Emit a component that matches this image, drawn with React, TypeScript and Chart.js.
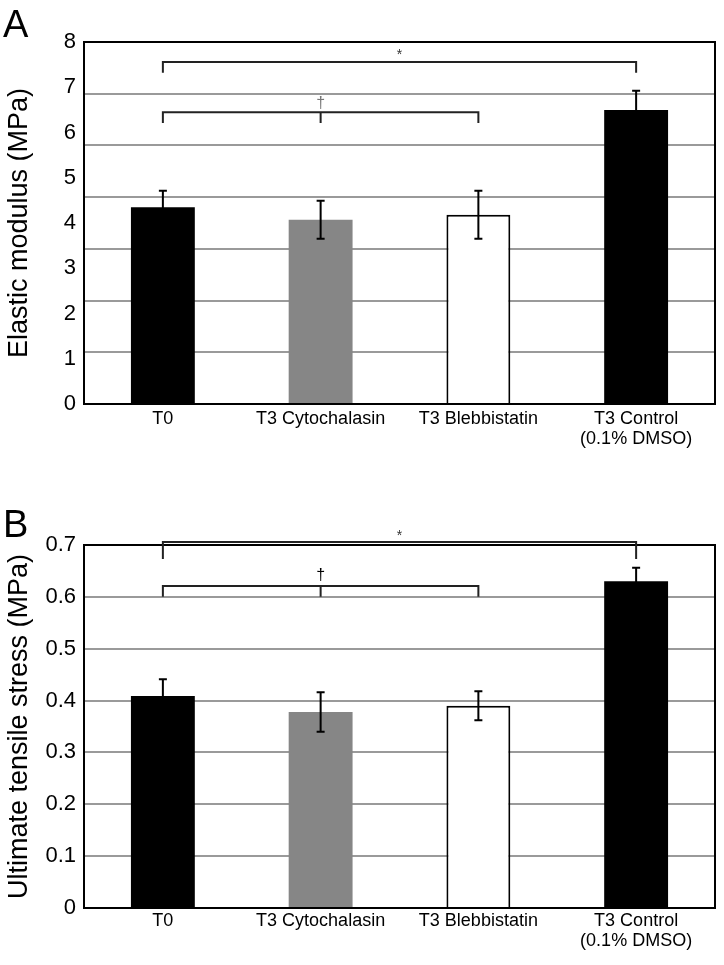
import React, { useEffect, useRef } from "react";
import { Chart, registerables } from "chart.js";

Chart.register(...registerables);

const categories: (string | string[])[] = ["T0", "T3 Cytochalasin", "T3 Blebbistatin", ["T3 Control", "(0.1% DMSO)"]];
const barColors = ["#000000", "#868686", "#ffffff", "#000000"];
const barBorderWidths = [0, 0, 2, 0];

// Panel A: elastic modulus (MPa)
const modulusMeans = [4.35, 4.07, 4.18, 6.5];
const modulusErrors = [0.36, 0.42, 0.53, 0.42];
const modulusTickMax = 8;
const modulusGridSteps = 7;
const modulusBrackets = [
  { from: 0, to: 3, mid: null as number | null, y: 7.56, drop: 0.24, label: "*", labelY: 7.62, labelColor: "#333" },
  { from: 0, to: 2, mid: 1 as number | null, y: 6.45, drop: 0.24, label: "†", labelY: 6.55, labelColor: "#777" },
];

// Panel B: ultimate tensile stress (MPa)
const utsMeans = [0.409, 0.378, 0.39, 0.63];
const utsErrors = [0.032, 0.038, 0.028, 0.026];
const utsTickMax = 0.7;
const utsGridSteps = 7;
const utsBrackets = [
  { from: 0, to: 3, mid: null as number | null, y: 0.706, drop: 0.033, label: "*", labelY: 0.71, labelColor: "#333" },
  { from: 0, to: 2, mid: 1 as number | null, y: 0.621, drop: 0.021, label: "†", labelY: 0.632, labelColor: "#000" },
];

const FONT = "'Liberation Sans', Arial, Helvetica, sans-serif";

type PanelProps = {
  top: number;
  height: number;
  plotTop: number;
  plotBottom: number;
  means: number[];
  errors: number[];
  tickMax: number;
  tickStep: number;
  gridSteps: number;
  brackets: typeof modulusBrackets;
  title: string;
  xPad: number;
};

function Panel(p: PanelProps) {
  const ref = useRef<HTMLCanvasElement | null>(null);
  useEffect(() => {
    if (!ref.current) return;
    const errorBars = {
      id: "errorBars",
      afterDatasetsDraw(chart: any) {
        const { ctx } = chart;
        const xS = chart.scales.x;
        const yS = chart.scales.y;
        ctx.save();
        ctx.strokeStyle = "#000";
        ctx.lineWidth = 2;
        p.means.forEach((m, i) => {
          const x = xS.getPixelForValue(i);
          const yt = yS.getPixelForValue(m + p.errors[i]);
          const yb = yS.getPixelForValue(m - p.errors[i]);
          ctx.beginPath();
          ctx.moveTo(x, yt);
          ctx.lineTo(x, yb);
          ctx.moveTo(x - 4, yt);
          ctx.lineTo(x + 4, yt);
          ctx.moveTo(x - 4, yb);
          ctx.lineTo(x + 4, yb);
          ctx.stroke();
        });
        ctx.restore();
      },
      afterDraw(chart: any) {
        const { ctx, chartArea } = chart;
        const xS = chart.scales.x;
        const yS = chart.scales.y;
        ctx.save();
        ctx.strokeStyle = "#000";
        ctx.lineWidth = 2;
        ctx.strokeRect(chartArea.left, chartArea.top, chartArea.right - chartArea.left, chartArea.bottom - chartArea.top);
        ctx.strokeStyle = "#222";
        p.brackets.forEach((b) => {
          const x1 = xS.getPixelForValue(b.from);
          const x2 = xS.getPixelForValue(b.to);
          const yy = yS.getPixelForValue(b.y);
          const yd = yS.getPixelForValue(b.y - b.drop);
          ctx.beginPath();
          ctx.moveTo(x1, yd);
          ctx.lineTo(x1, yy);
          ctx.lineTo(x2, yy);
          ctx.lineTo(x2, yd);
          let lx = (x1 + x2) / 2;
          if (b.mid !== null) {
            const xm = xS.getPixelForValue(b.mid);
            ctx.moveTo(xm, yy);
            ctx.lineTo(xm, yd);
            lx = xm;
          }
          ctx.stroke();
          ctx.fillStyle = b.labelColor;
          ctx.font = (b.label === "*" ? "14px " : "16px ") + FONT;
          ctx.textAlign = "center";
          ctx.textBaseline = "alphabetic";
          ctx.fillText(b.label, lx, yS.getPixelForValue(b.labelY));
        });
        ctx.restore();
      },
    };
    const chart = new Chart(ref.current, {
      type: "bar",
      data: {
        labels: categories as any,
        datasets: [
          {
            data: p.means,
            backgroundColor: barColors,
            borderColor: "#000",
            borderWidth: barBorderWidths,
            categoryPercentage: 1,
            barPercentage: 0.405,
            yAxisID: "y",
          },
        ],
      },
      options: {
        responsive: false,
        animation: false,
        devicePixelRatio: 1,
        layout: { padding: { left: 0, right: 9, top: p.plotTop, bottom: 0 } },
        plugins: { legend: { display: false }, tooltip: { enabled: false } },
        scales: {
          x: {
            type: "category",
            grid: { display: false, drawTicks: false },
            border: { display: false },
            ticks: { color: "#000", font: { family: FONT, size: 18, lineHeight: 1.1 }, padding: p.xPad, maxRotation: 0, autoSkip: false },
            afterFit: (s: any) => {
              s.height = p.height - p.plotBottom;
            },
          },
          y: {
            position: "left",
            min: 0,
            max: p.tickMax,
            ticks: { stepSize: p.tickStep, color: "#000", font: { family: FONT, size: 22 }, padding: 8 },
            grid: { display: false, drawTicks: false },
            border: { display: false },
            title: { display: true, text: p.title, color: "#000", font: { family: FONT, size: 27 }, padding: { top: 3, bottom: 0 } },
            afterFit: (s: any) => {
              s.width = 84;
            },
          },
          yGrid: {
            position: "left",
            min: 0,
            max: p.gridSteps,
            ticks: { display: false, stepSize: 1 },
            grid: { color: "#9a9a9a", lineWidth: 2, drawTicks: false },
            border: { display: false },
            afterFit: (s: any) => {
              s.width = 0;
            },
          },
        },
      } as any,
      plugins: [errorBars],
    });
    return () => chart.destroy();
  }, []);
  return (
    <canvas
      ref={ref}
      width={724}
      height={p.height}
      style={{ position: "absolute", left: 0, top: p.top, width: 724, height: p.height }}
    />
  );
}

export default function App() {
  const letter: React.CSSProperties = {
    position: "absolute",
    left: 3,
    fontFamily: FONT,
    fontSize: 38,
    lineHeight: "38px",
    color: "#000",
  };
  return (
    <div style={{ position: "absolute", left: 0, top: 0, width: 724, height: 965, background: "#fff", overflow: "hidden" }}>
      <Panel
        top={0}
        height={480}
        plotTop={42}
        plotBottom={404}
        means={modulusMeans}
        errors={modulusErrors}
        tickMax={modulusTickMax}
        tickStep={1}
        gridSteps={modulusGridSteps}
        brackets={modulusBrackets}
        title="Elastic modulus (MPa)"
        xPad={5}
      />
      <Panel
        top={480}
        height={485}
        plotTop={65}
        plotBottom={428}
        means={utsMeans}
        errors={utsErrors}
        tickMax={utsTickMax}
        tickStep={0.1}
        gridSteps={utsGridSteps}
        brackets={utsBrackets}
        title="Ultimate tensile stress (MPa)"
        xPad={3}
      />
      <div style={{ ...letter, top: 5 }}>A</div>
      <div style={{ ...letter, top: 505 }}>B</div>
    </div>
  );
}
